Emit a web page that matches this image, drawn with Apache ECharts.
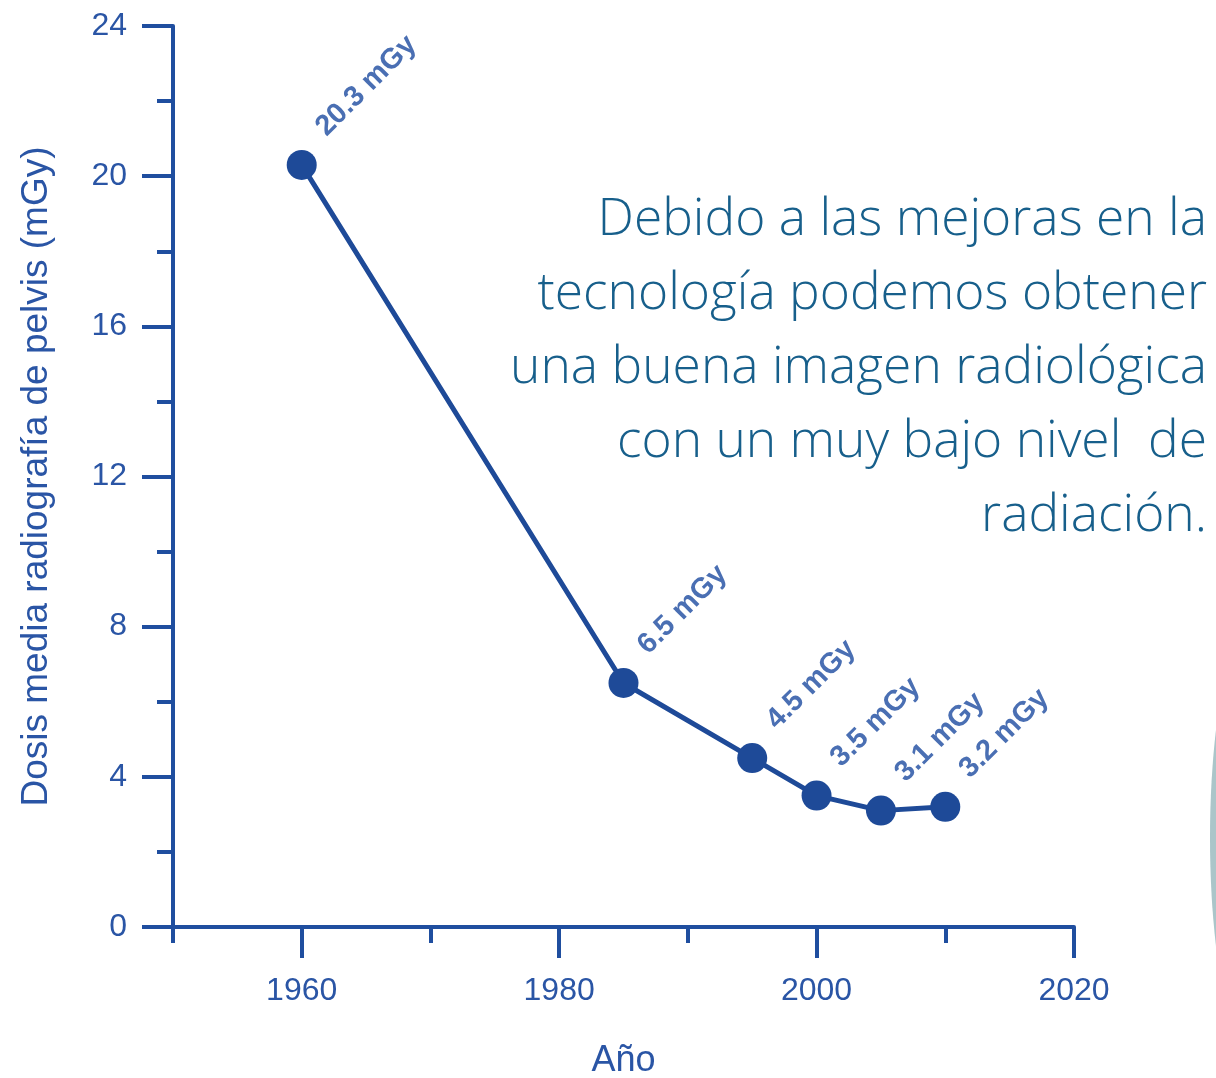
<!DOCTYPE html>
<html>
<head>
<meta charset="utf-8">
<script src="https://cdn.jsdelivr.net/npm/echarts@6/dist/echarts.min.js"></script>
<style>
  html, body { margin: 0; padding: 0; background: #fff; }
  #chart { width: 1216px; height: 1078px; }
</style>
</head>
<body>
<div id="chart"></div>
<script>
// datos
const years = [1960, 1985, 1995, 2000, 2005, 2010];
const doses = [20.3, 6.5, 4.5, 3.5, 3.1, 3.2];
const majorYears = [1960, 1980, 2000, 2020];
const minorYears = [1950, 1970, 1990, 2010];
const noteLines = [
  'Debido a las mejoras en la',
  'tecnología podemos obtener',
  'una buena imagen radiológica',
  'con un muy bajo nivel  de',
  'radiación.'
];

const axisColor = '#1f4e9f';
const textColor = '#2a55a5';
const font = '"Liberation Sans", Arial, sans-serif';

let chart = echarts.init(document.getElementById('chart'), null, { renderer: 'canvas' });

let option = {
  animation: false,
  backgroundColor: '#fff',
  grid: { left: 173, right: 142, top: 26, bottom: 151, outerBoundsMode: 'none' },
  xAxis: [
    {
      type: 'value', min: 1950, max: 2020, interval: 10,
      name: 'Año', nameLocation: 'middle', nameGap: 116,
      nameTextStyle: { color: textColor, fontSize: 36, fontFamily: font },
      axisLine: { lineStyle: { color: axisColor, width: 4 } },
      axisTick: { length: 31, customValues: majorYears, lineStyle: { color: axisColor, width: 4 } },
      axisLabel: {
        customValues: majorYears, margin: 48, color: textColor, fontSize: 32, fontFamily: font,
        formatter: v => String(v)
      },
      splitLine: { show: false }
    },
    {
      type: 'value', min: 1950, max: 2020, interval: 10, position: 'bottom',
      axisLine: { show: false },
      axisTick: { length: 16, customValues: minorYears, lineStyle: { color: axisColor, width: 4 } },
      axisLabel: { show: false },
      splitLine: { show: false }
    }
  ],
  yAxis: {
    type: 'value', min: 0, max: 24, interval: 4,
    name: 'Dosis media radiografía de pelvis (mGy)', nameLocation: 'middle', nameGap: 118,
    nameTextStyle: { color: textColor, fontSize: 37, fontFamily: font },
    axisLine: { show: true, lineStyle: { color: axisColor, width: 4 } },
    axisTick: { show: true, length: 31, lineStyle: { color: axisColor, width: 4 } },
    minorTick: { show: true, splitNumber: 2, length: 16, lineStyle: { color: axisColor, width: 4 } },
    axisLabel: { margin: 46, color: textColor, fontSize: 32, fontFamily: font },
    splitLine: { show: false },
    minorSplitLine: { show: false }
  },
  series: [{
    type: 'line',
    data: years.map((y, i) => [y, doses[i]]),
    symbol: 'circle',
    symbolSize: 30,
    lineStyle: { color: '#1e4a98', width: 5 },
    itemStyle: { color: '#1e4a98' },
    label: {
      show: true,
      position: 'top',
      distance: 22,
      rotate: 45,
      align: 'left',
      verticalAlign: 'middle',
      offset: [11, 16],
      formatter: p => p.value[1] + ' mGy',
      color: '#4a6fb3',
      fontSize: 29,
      fontWeight: 'bold',
      fontFamily: font
    }
  }],
  graphic: [
    {
      type: 'ellipse',
      shape: { cx: 1264, cy: 838, rx: 54, ry: 236 },
      style: { fill: '#abc5c9' },
      silent: true
    }
  ].concat(noteLines.map((t, i) => ({
    type: 'text',
    right: 9,
    top: 224 + i * 74 - 30,
    style: {
      text: t,
      fill: '#175f8b',
      font: '300 51.5px "Open Sans", sans-serif',
      textAlign: 'right'
    }
  })))
};

chart.setOption(option);
</script>
</body>
</html>
